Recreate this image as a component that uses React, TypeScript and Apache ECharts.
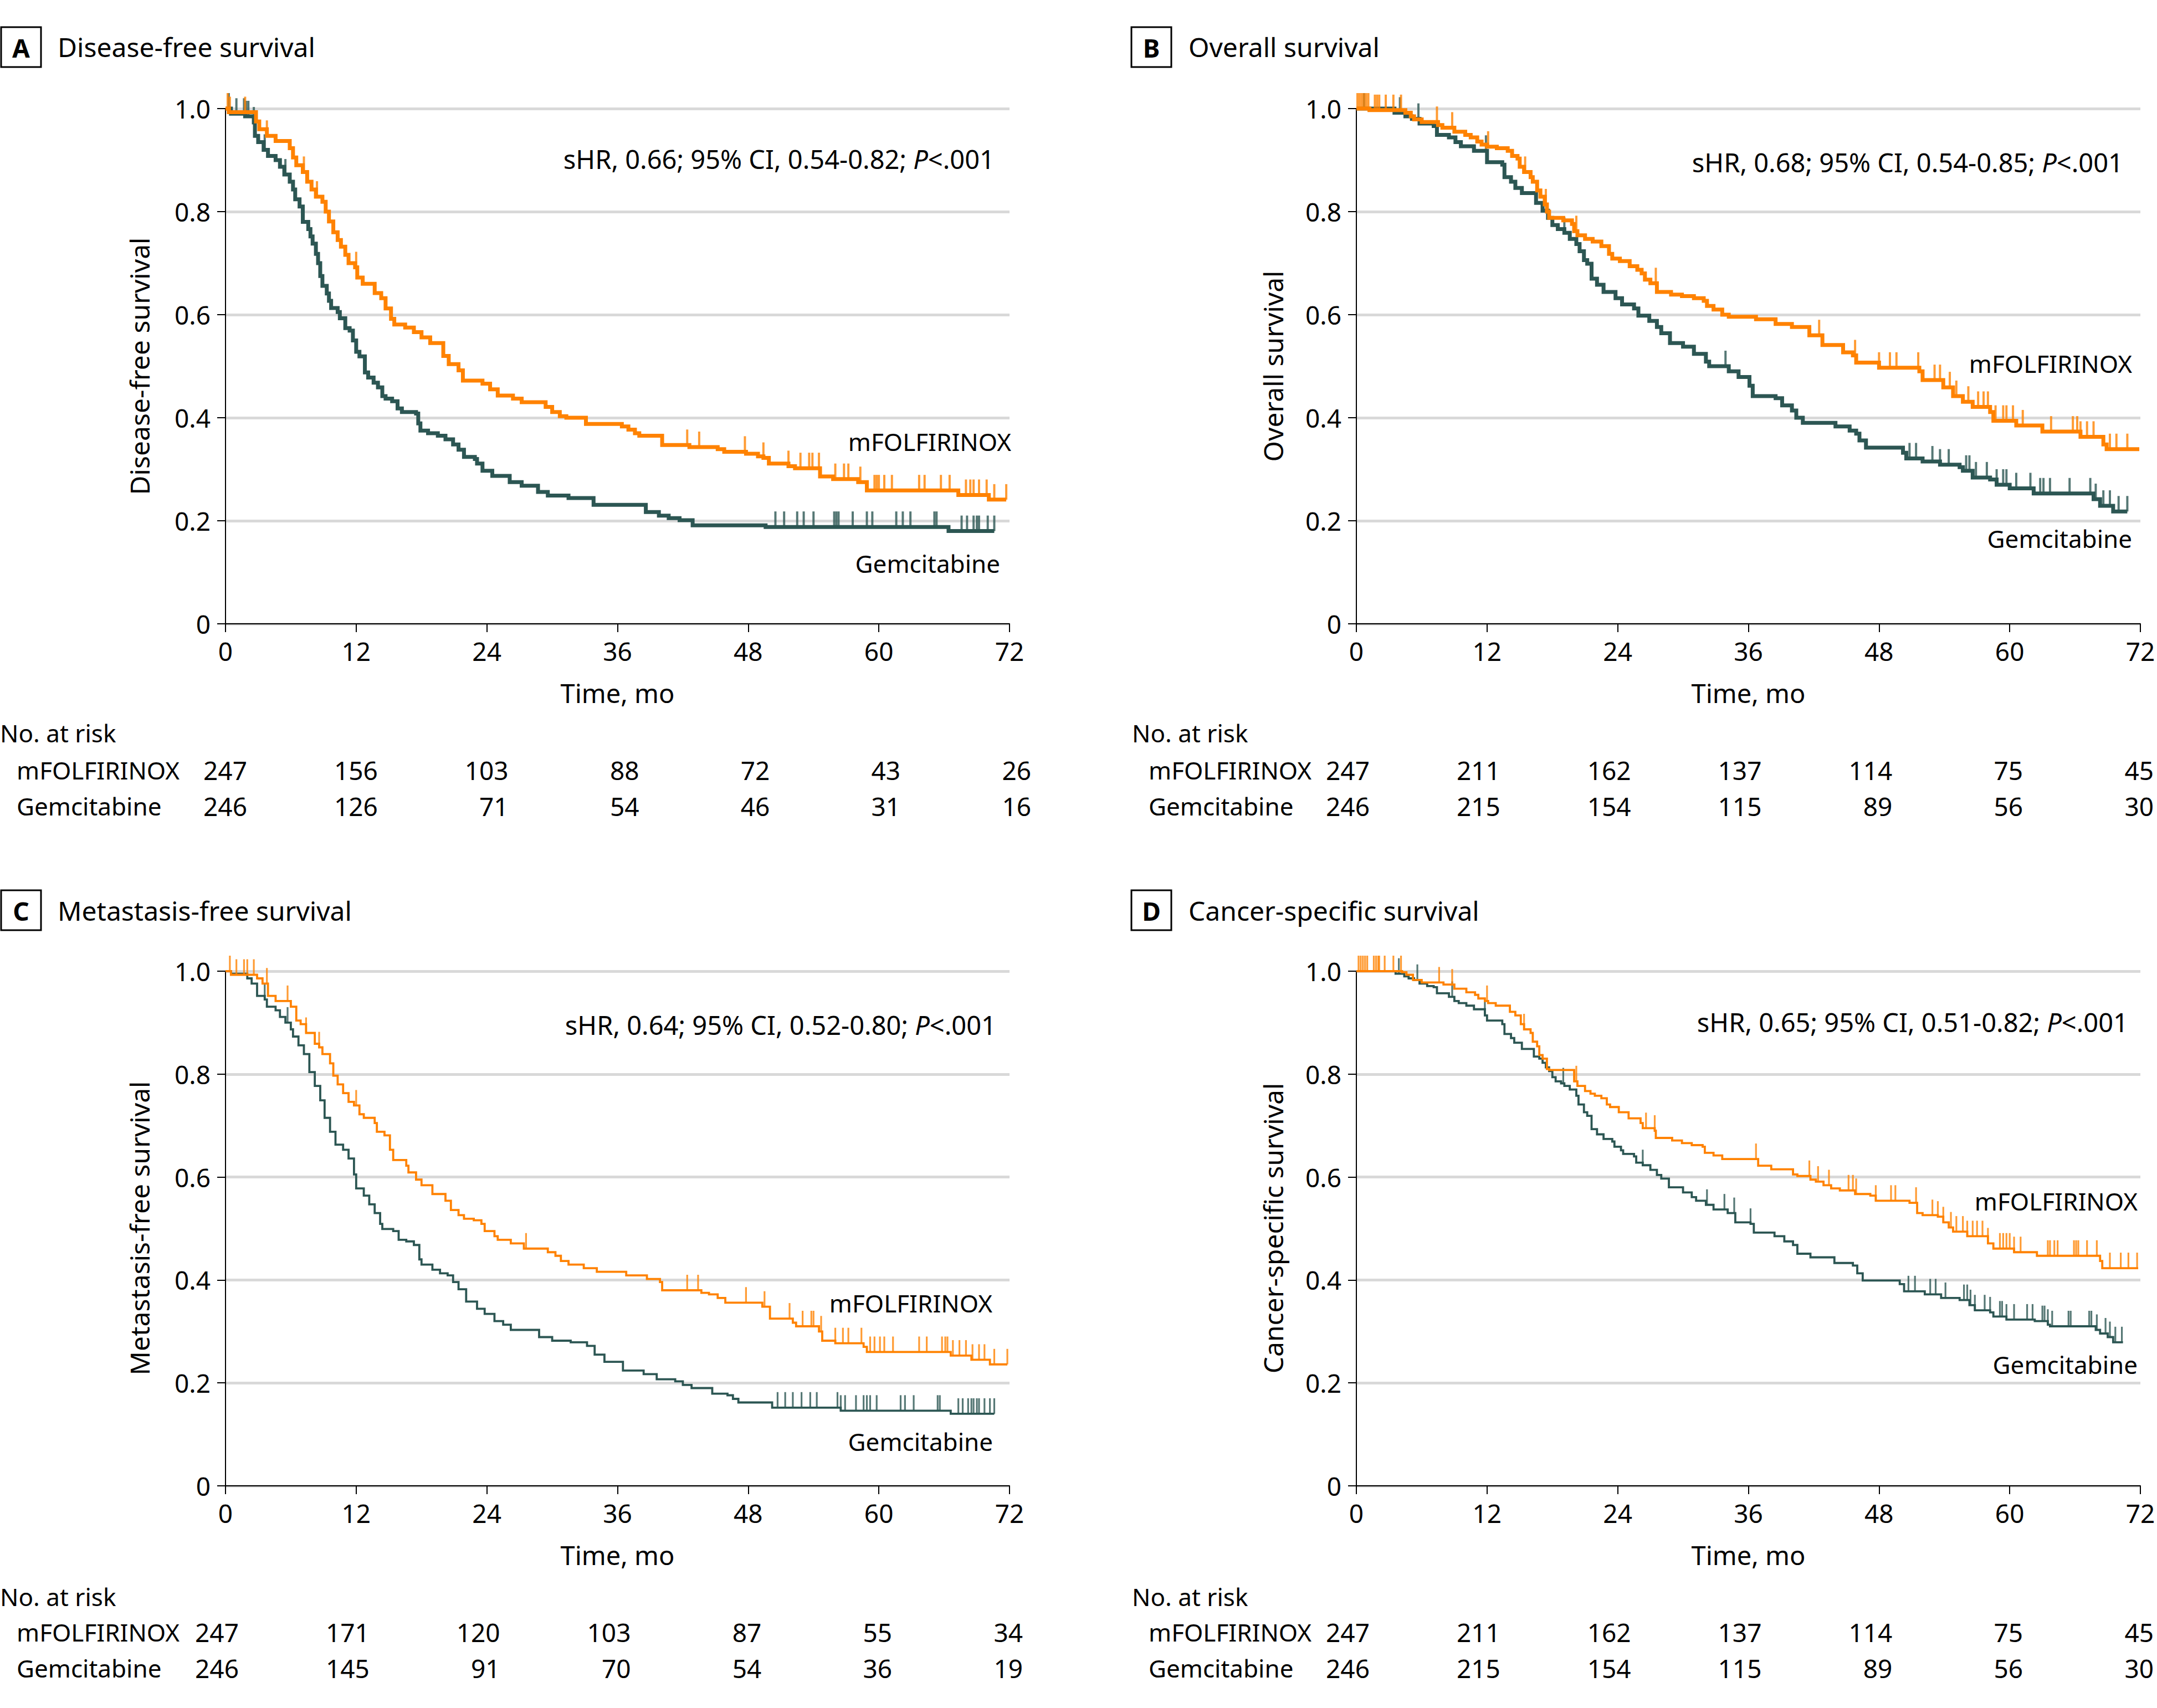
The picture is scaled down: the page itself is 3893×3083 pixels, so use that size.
import React, { useEffect, useRef } from "react";
import * as echarts from "echarts";

// ---------- DATA ----------
const X_TICKS = [0, 12, 24, 36, 48, 60, 72];

// Panel A: Disease-free survival
const A_MF: number[][] = [[0,1],[0.3,0.993],[2.8,0.975],[3.1,0.96],[3.8,0.947],[4.6,0.937],[5.9,0.923],[6.2,0.905],[6.5,0.89],[7.1,0.877],[7.5,0.858],[7.9,0.843],[8.3,0.829],[8.9,0.819],[9.2,0.8],[9.5,0.781],[9.9,0.76],[10.3,0.745],[10.6,0.732],[11.0,0.716],[11.3,0.7],[11.9,0.692],[12.1,0.672],[12.6,0.66],[13.7,0.642],[14.3,0.632],[14.7,0.612],[15.2,0.592],[15.5,0.581],[16.5,0.575],[17.3,0.566],[18.0,0.556],[18.8,0.545],[20.0,0.52],[20.5,0.504],[21.4,0.492],[21.8,0.472],[23.6,0.466],[24.3,0.455],[25.0,0.443],[26.4,0.437],[27.2,0.43],[29.4,0.421],[30.0,0.411],[30.7,0.403],[31.3,0.4],[33.1,0.388],[36.4,0.383],[37.0,0.377],[37.6,0.37],[38.0,0.365],[40.1,0.347],[42.6,0.343],[45.2,0.339],[45.8,0.334],[47.8,0.33],[48.9,0.325],[49.4,0.322],[49.9,0.311],[51.7,0.306],[52.3,0.302],[54.6,0.286],[55.8,0.281],[58.1,0.275],[58.9,0.259],[67.3,0.25],[70.1,0.241],[71.7,0.241]];
const A_GE: number[][] = [[0,1],[0.5,0.99],[1.8,0.985],[2.6,0.973],[2.7,0.947],[3.0,0.935],[3.5,0.92],[3.9,0.908],[4.6,0.9],[5.0,0.887],[5.4,0.872],[5.9,0.858],[6.2,0.843],[6.4,0.824],[6.8,0.81],[7.1,0.78],[7.6,0.766],[7.8,0.752],[8.0,0.738],[8.3,0.718],[8.5,0.7],[8.7,0.675],[8.9,0.656],[9.3,0.641],[9.5,0.627],[9.7,0.613],[10.3,0.605],[10.5,0.593],[11.0,0.574],[11.4,0.569],[11.7,0.55],[12.0,0.528],[12.3,0.519],[12.8,0.488],[13.1,0.478],[13.6,0.468],[14.0,0.459],[14.4,0.442],[14.7,0.437],[15.3,0.432],[15.8,0.418],[16.2,0.411],[17.5,0.408],[17.7,0.389],[17.9,0.375],[18.6,0.37],[19.5,0.365],[20.2,0.358],[20.9,0.348],[21.4,0.338],[21.9,0.324],[22.9,0.32],[23.1,0.311],[23.6,0.297],[24.5,0.287],[26.1,0.275],[27.2,0.268],[28.7,0.256],[29.6,0.249],[31.5,0.244],[33.8,0.231],[38.6,0.217],[39.8,0.21],[40.7,0.205],[41.7,0.201],[42.9,0.191],[49.6,0.188],[66.4,0.18],[70.6,0.18]];
const A_MF_CENS = [0.2,0.4,1.8,3.8,7.2,8.4,12.0,42.4,43.5,47.7,49.4,51.7,52.8,53.6,53.9,54.5,56.0,56.8,57.2,58.3,59.6,59.8,60.0,60.5,61.2,63.7,64.2,65.7,66.5,68.0,68.4,68.7,69.2,69.9,70.6,71.7];
const A_GE_CENS = [0.3,1.0,1.7,1.9,2.1,2.6,3.6,5.5,50.5,51.3,52.5,53.1,54.0,55.9,56.1,56.3,57.6,58.9,59.4,61.6,62.2,62.9,65.1,65.3,67.6,68.1,68.7,69.0,69.2,70.0,70.6];
const A_RISK_MF = [247, 156, 103, 88, 72, 43, 26];
const A_RISK_GE = [246, 126, 71, 54, 46, 31, 16];

// Panel B: Overall survival
const B_MF: number[][] = [[0,1],[1.2,0.997],[4.5,0.992],[5.0,0.985],[5.3,0.979],[6.0,0.974],[7.5,0.968],[7.9,0.963],[9.0,0.955],[10.0,0.949],[10.5,0.944],[11.1,0.936],[11.5,0.93],[12.0,0.926],[12.9,0.923],[13.9,0.918],[14.3,0.908],[14.8,0.903],[15.0,0.887],[15.4,0.877],[16.0,0.867],[16.2,0.858],[16.6,0.841],[16.9,0.829],[17.3,0.814],[17.5,0.8],[17.7,0.788],[19.0,0.783],[19.8,0.776],[20.0,0.762],[20.3,0.754],[21.0,0.747],[21.7,0.742],[22.5,0.733],[23.2,0.718],[23.5,0.709],[24.2,0.704],[25.1,0.694],[25.8,0.687],[26.2,0.68],[26.5,0.668],[27.0,0.661],[27.6,0.644],[28.9,0.639],[29.9,0.636],[31.0,0.632],[31.9,0.627],[32.2,0.617],[32.8,0.61],[33.6,0.6],[34.2,0.596],[36.7,0.591],[38.5,0.582],[40.0,0.576],[41.6,0.56],[42.8,0.541],[44.7,0.527],[45.6,0.521],[45.9,0.507],[48.0,0.497],[51.7,0.49],[52.0,0.473],[53.9,0.459],[54.8,0.442],[55.7,0.431],[56.6,0.421],[58.2,0.411],[58.5,0.394],[60.6,0.385],[63.0,0.373],[66.5,0.363],[68.6,0.348],[68.9,0.339],[71.9,0.339]];
const B_GE: number[][] = [[0,1],[3.5,0.992],[4.5,0.985],[5.1,0.98],[5.8,0.971],[7.1,0.966],[7.4,0.949],[8.5,0.944],[9.1,0.935],[9.6,0.927],[10.8,0.918],[12.0,0.896],[13.4,0.891],[13.6,0.867],[14.2,0.858],[14.6,0.846],[15.2,0.836],[16.5,0.817],[17.1,0.802],[17.6,0.788],[18.0,0.774],[18.5,0.766],[19.1,0.759],[19.6,0.747],[20.2,0.737],[20.5,0.723],[20.9,0.706],[21.2,0.699],[21.6,0.67],[22.1,0.658],[22.7,0.644],[23.8,0.632],[24.4,0.62],[25.5,0.612],[25.9,0.598],[26.9,0.588],[27.6,0.576],[28.0,0.564],[28.8,0.545],[30.0,0.538],[31.0,0.524],[32.1,0.509],[32.4,0.5],[34.2,0.49],[35.1,0.479],[36.1,0.462],[36.4,0.442],[38.5,0.438],[39.1,0.424],[40.0,0.414],[40.4,0.4],[41.0,0.39],[44.0,0.383],[45.3,0.375],[45.9,0.369],[46.2,0.356],[46.8,0.342],[50.2,0.332],[50.5,0.321],[52.0,0.315],[53.6,0.309],[55.4,0.304],[55.7,0.297],[56.6,0.284],[58.2,0.28],[58.8,0.27],[60.0,0.263],[62.2,0.253],[67.7,0.242],[68.3,0.229],[69.5,0.218],[70.8,0.218]];
const B_MF_CENS = [0.1,0.3,0.5,0.7,0.9,1.1,1.7,1.9,2.1,2.7,3.4,4.1,7.4,8.8,12.1,15.5,17.4,20.2,27.5,42.5,45.8,48.0,49.0,49.6,51.6,53.1,53.6,54.5,55.1,56.2,57.1,57.6,58.0,58.7,59.4,59.7,60.3,61.2,63.8,65.8,66.2,66.5,67.1,67.7,69.2,69.8,70.8];
const B_GE_CENS = [0.7,4.0,5.7,11.9,19.1,33.9,50.8,51.4,52.9,53.6,54.4,56.0,56.3,56.9,57.9,58.8,59.4,59.7,60.6,61.9,62.8,63.1,63.7,65.5,67.4,67.9,68.6,69.2,70.0,70.8];
const B_RISK_MF = [247, 211, 162, 137, 114, 75, 45];
const B_RISK_GE = [246, 215, 154, 115, 89, 56, 30];

// Panel C: Metastasis-free survival
const C_MF: number[][] = [[0,1],[0.5,0.993],[2.9,0.986],[3.4,0.976],[3.9,0.952],[4.6,0.942],[6.0,0.931],[6.5,0.904],[6.9,0.897],[7.4,0.88],[8.2,0.859],[8.6,0.852],[8.9,0.839],[9.6,0.821],[9.9,0.797],[10.3,0.78],[10.8,0.763],[11.3,0.746],[11.8,0.739],[12.3,0.722],[12.7,0.715],[13.7,0.705],[13.9,0.688],[14.6,0.681],[15.1,0.653],[15.4,0.633],[16.6,0.622],[16.8,0.609],[17.5,0.595],[18.0,0.584],[19.0,0.567],[20.2,0.554],[20.7,0.536],[21.4,0.526],[21.9,0.519],[22.8,0.516],[23.5,0.509],[23.8,0.495],[24.7,0.485],[25.0,0.478],[26.2,0.471],[27.4,0.461],[29.6,0.454],[30.3,0.447],[30.8,0.437],[31.5,0.43],[32.9,0.423],[34.1,0.416],[36.8,0.409],[38.7,0.402],[39.9,0.396],[40.1,0.38],[43.7,0.375],[44.4,0.372],[45.2,0.365],[45.9,0.356],[49.3,0.348],[50.0,0.325],[52.1,0.317],[52.4,0.31],[54.5,0.3],[54.8,0.282],[56.0,0.277],[58.6,0.27],[58.9,0.26],[66.6,0.253],[68.5,0.245],[70.2,0.236],[71.8,0.236]];
const C_GE: number[][] = [[0,1],[0.5,0.995],[2.0,0.986],[2.4,0.976],[2.9,0.952],[3.6,0.945],[3.8,0.931],[4.6,0.924],[5.0,0.911],[5.5,0.9],[6.0,0.887],[6.2,0.873],[6.7,0.856],[7.2,0.839],[7.7,0.804],[8.2,0.777],[8.7,0.749],[9.1,0.715],[9.6,0.688],[10.1,0.663],[10.8,0.653],[11.3,0.636],[11.8,0.605],[12.0,0.578],[12.7,0.564],[13.2,0.547],[13.7,0.53],[14.2,0.509],[14.4,0.499],[15.4,0.495],[15.9,0.478],[16.6,0.475],[17.3,0.468],[17.8,0.44],[18.0,0.43],[19.0,0.42],[19.7,0.413],[20.4,0.409],[20.9,0.396],[21.4,0.382],[22.1,0.358],[23.1,0.344],[23.8,0.334],[24.7,0.32],[25.5,0.313],[26.2,0.303],[28.8,0.289],[30.0,0.282],[31.7,0.279],[33.2,0.272],[33.9,0.255],[34.8,0.241],[36.5,0.224],[38.4,0.217],[39.6,0.207],[41.3,0.203],[42.0,0.196],[42.8,0.19],[44.7,0.179],[46.1,0.176],[46.6,0.169],[47.1,0.162],[50.2,0.152],[56.5,0.146],[66.6,0.14],[70.6,0.14]];
const C_MF_CENS = [0.4,1.0,1.7,2.0,2.6,3.8,5.7,7.4,8.6,12.0,27.6,42.4,43.4,47.8,49.5,51.8,53.0,53.8,54.0,54.7,56.0,56.7,57.2,58.4,59.2,59.6,60.1,60.5,61.3,63.7,64.4,65.8,66.1,66.3,66.8,67.4,68.0,68.6,69.2,69.7,70.6,71.8];
const C_GE_CENS = [3.6,5.7,50.7,51.4,52.1,52.9,53.7,54.3,56.2,56.5,56.9,57.9,58.6,58.9,59.2,59.8,62.0,62.4,63.2,65.4,65.6,67.3,67.7,68.2,68.5,68.7,69.0,69.2,69.7,70.2,70.6];
const C_RISK_MF = [247, 171, 120, 103, 87, 55, 34];
const C_RISK_GE = [246, 145, 91, 70, 54, 36, 19];

// Panel D: Cancer-specific survival
const D_MF: number[][] = [[0,1],[4.2,0.998],[4.6,0.993],[5.2,0.983],[6.0,0.978],[8.0,0.974],[9.0,0.966],[10.1,0.959],[10.9,0.954],[11.2,0.947],[11.8,0.942],[12.1,0.938],[12.8,0.933],[14.1,0.921],[14.6,0.914],[15.1,0.897],[15.4,0.887],[16.0,0.88],[16.2,0.863],[16.6,0.854],[16.8,0.837],[17.1,0.83],[17.5,0.81],[17.7,0.808],[20.0,0.786],[20.3,0.777],[21.0,0.767],[21.5,0.762],[21.9,0.758],[22.5,0.753],[23.0,0.741],[23.3,0.736],[24.1,0.726],[25.0,0.714],[26.1,0.705],[26.3,0.695],[27.4,0.69],[27.5,0.676],[29.0,0.671],[29.9,0.666],[30.8,0.662],[31.8,0.659],[32.0,0.647],[32.8,0.642],[33.6,0.635],[36.9,0.622],[38.1,0.615],[40.1,0.605],[40.5,0.602],[41.7,0.595],[42.2,0.591],[42.9,0.584],[43.6,0.578],[44.4,0.574],[45.8,0.567],[47.2,0.564],[47.7,0.554],[50.8,0.55],[51.5,0.53],[52.0,0.526],[53.4,0.523],[53.9,0.512],[54.4,0.502],[54.8,0.494],[56.1,0.485],[58.0,0.471],[58.5,0.461],[60.4,0.454],[62.5,0.447],[68.3,0.437],[68.5,0.423],[71.8,0.423]];
const D_GE: number[][] = [[0,1],[3.6,0.995],[4.4,0.99],[4.8,0.986],[5.3,0.983],[5.8,0.976],[6.5,0.971],[7.1,0.969],[7.4,0.957],[8.5,0.95],[9.0,0.942],[9.4,0.938],[10.1,0.933],[10.8,0.926],[11.8,0.914],[12.0,0.904],[13.4,0.897],[13.6,0.878],[14.2,0.87],[14.5,0.861],[15.2,0.849],[16.3,0.834],[16.8,0.83],[17.1,0.822],[17.4,0.813],[17.7,0.806],[18.0,0.794],[18.3,0.786],[18.8,0.782],[19.1,0.777],[19.6,0.77],[20.2,0.758],[20.4,0.741],[20.9,0.726],[21.2,0.719],[21.6,0.693],[22.1,0.683],[22.7,0.674],[23.5,0.669],[23.7,0.659],[24.3,0.652],[24.5,0.645],[25.5,0.64],[25.7,0.628],[26.3,0.623],[27.0,0.614],[27.6,0.604],[28.0,0.597],[28.7,0.58],[30.0,0.57],[30.8,0.561],[31.2,0.554],[32.1,0.546],[32.8,0.537],[34.1,0.53],[34.8,0.512],[36.2,0.509],[36.5,0.492],[38.4,0.485],[39.3,0.475],[40.1,0.468],[40.5,0.451],[41.7,0.444],[43.9,0.433],[45.6,0.428],[46.0,0.413],[46.5,0.399],[49.9,0.392],[50.3,0.378],[52.2,0.372],[53.7,0.365],[55.4,0.361],[56.3,0.351],[56.8,0.341],[58.2,0.337],[58.5,0.329],[59.7,0.323],[62.3,0.32],[63.5,0.313],[63.7,0.31],[67.9,0.303],[68.3,0.296],[69.0,0.289],[69.5,0.279],[70.4,0.279]];
const D_MF_CENS = [0.2,0.4,0.6,0.8,1.0,1.6,1.8,2.0,2.1,2.6,3.4,4.1,7.6,8.8,12.0,15.4,20.2,26.6,27.4,36.7,41.6,42.4,43.4,45.2,45.6,45.9,47.7,49.1,49.5,51.4,52.9,53.4,53.9,54.6,55.1,55.7,56.1,56.6,57.0,57.5,58.0,59.1,59.4,59.7,60.0,60.4,61.0,63.5,63.7,64.1,64.4,65.9,66.1,66.3,67.1,68.0,69.2,70.2,70.9,71.7];
const D_GE_CENS = [3.9,5.6,8.8,11.8,19.0,26.3,32.2,33.8,34.7,36.2,50.7,51.3,52.7,53.2,54.1,55.8,56.1,56.4,56.8,57.7,58.2,59.1,59.3,59.7,60.4,61.6,62.1,63.0,63.2,63.5,63.9,65.4,65.6,67.3,67.5,68.0,68.8,69.2,69.7,70.3];
const D_RISK_MF = [247, 211, 162, 137, 114, 75, 45];
const D_RISK_GE = [246, 215, 154, 115, 89, 56, 30];

const PANEL_LETTERS = ["A", "B", "C", "D"];
const PANEL_TITLES = ["Disease-free survival", "Overall survival", "Metastasis-free survival", "Cancer-specific survival"];
const Y_TITLES = ["Disease-free survival", "Overall survival", "Metastasis-free survival", "Cancer-specific survival"];
const HR_TEXTS = ["sHR, 0.66; 95% CI, 0.54-0.82; ", "sHR, 0.68; 95% CI, 0.54-0.85; ", "sHR, 0.64; 95% CI, 0.52-0.80; ", "sHR, 0.65; 95% CI, 0.51-0.82; "];
const GROUPS = ["mFOLFIRINOX", "Gemcitabine"];

// ---------- STYLE / LAYOUT ----------
const ORANGE = "#FF8200";
const TEAL = "#2C5653";
const FONT = "'Noto Sans', 'DejaVu Sans', sans-serif";

const LAYOUT = [
  { left: 407, top: 196, h: 930, boxX: 2, boxY: 49, titleX: 104, titleY: 84, yTitleX: 251, yTitleY: 661, hrX: 1795, hrY: 287, mf: [1825, 797], ge: [1805, 1017], timeY: 1251, headX: 0, headY: 1323, rowX: 30, row1: 1390, row2: 1455, numOff: 39, lw: 7, tw: 4 },
  { left: 2448, top: 196, h: 930, boxX: 2042, boxY: 49, titleX: 2145, titleY: 84, yTitleX: 2297, yTitleY: 661, hrX: 3832, hrY: 293, mf: [3848, 656], ge: [3848, 972], timeY: 1251, headX: 2043, headY: 1323, rowX: 2073, row1: 1390, row2: 1455, numOff: 24, lw: 7, tw: 4 },
  { left: 407, top: 1753, h: 929, boxX: 2, boxY: 1607, titleX: 104, titleY: 1643, yTitleX: 251, yTitleY: 2217, hrX: 1798, hrY: 1850, mf: [1791, 2352], ge: [1792, 2602], timeY: 2807, headX: 0, headY: 2882, rowX: 30, row1: 2946, row2: 3011, numOff: 24, lw: 3.8, tw: 3.2 },
  { left: 2448, top: 1753, h: 929, boxX: 2042, boxY: 1607, titleX: 2145, titleY: 1643, yTitleX: 2297, yTitleY: 2217, hrX: 3841, hrY: 1845, mf: [3858, 2168], ge: [3858, 2463], timeY: 2807, headX: 2043, headY: 2882, rowX: 2073, row1: 2946, row2: 3011, numOff: 24, lw: 3.8, tw: 3.2 },
];
const GRID_W = 1415;

const PANELS = [
  { mf: A_MF, ge: A_GE, mfC: A_MF_CENS, geC: A_GE_CENS, rMF: A_RISK_MF, rGE: A_RISK_GE },
  { mf: B_MF, ge: B_GE, mfC: B_MF_CENS, geC: B_GE_CENS, rMF: B_RISK_MF, rGE: B_RISK_GE },
  { mf: C_MF, ge: C_GE, mfC: C_MF_CENS, geC: C_GE_CENS, rMF: C_RISK_MF, rGE: C_RISK_GE },
  { mf: D_MF, ge: D_GE, mfC: D_MF_CENS, geC: D_GE_CENS, rMF: D_RISK_MF, rGE: D_RISK_GE },
];

function survAt(curve: number[][], t: number): number {
  let s = curve[0][1];
  for (const p of curve) {
    if (p[0] <= t + 1e-9) s = p[1];
    else break;
  }
  return s;
}

function txt(text: string, x: number, y: number, size: number, align: string, extra: any = {}) {
  return {
    type: "text",
    x,
    y,
    silent: true,
    ...extra,
    style: {
      text,
      fill: "#000",
      fontSize: size,
      fontFamily: FONT,
      align,
      verticalAlign: "middle",
      textAlign: align,
      textVerticalAlign: "middle",
      ...(extra.style || {}),
    },
  };
}

export default function App() {
  const ref = useRef<HTMLDivElement>(null);
  useEffect(() => {
    if (!ref.current) return;
    const chart = echarts.init(ref.current, null, { renderer: "svg" });

    const grid: any[] = [];
    const xAxis: any[] = [];
    const yAxis: any[] = [];
    const series: any[] = [];

    LAYOUT.forEach((L, i) => {
      grid.push({ left: L.left, top: L.top, width: GRID_W, height: L.h, containLabel: false });
      xAxis.push({
        type: "value", gridIndex: i, min: 0, max: 72, interval: 12,
        axisLine: { show: true, onZero: false, lineStyle: { color: "#000", width: 2 } },
        axisTick: { show: true, length: 15, lineStyle: { color: "#000", width: 2 } },
        axisLabel: { color: "#000", fontSize: 46, fontFamily: FONT, margin: 26 },
        splitLine: { show: false },
      });
      yAxis.push({
        type: "value", gridIndex: i, min: 0, max: 1, interval: 0.2,
        axisLine: { show: true, lineStyle: { color: "#000", width: 2 } },
        axisTick: { show: true, length: 15, lineStyle: { color: "#000", width: 2 } },
        axisLabel: { color: "#000", fontSize: 46, fontFamily: FONT, margin: 27, formatter: (v: number) => (v === 0 ? "0" : v.toFixed(1)) },
        splitLine: { show: true, lineStyle: { color: "#D9D9D9", width: 5 } },
      });
      const P = PANELS[i];
      const curves = [
        { data: P.ge, cens: P.geC, color: TEAL, z: 3 },
        { data: P.mf, cens: P.mfC, color: ORANGE, z: 4 },
      ];
      curves.forEach((c) => {
        series.push({
          type: "line", xAxisIndex: i, yAxisIndex: i, data: c.data, step: "end",
          showSymbol: false, symbol: "none", clip: false, silent: true, z: c.z,
          lineStyle: { color: c.color, width: L.lw, join: "miter" },
        });
        series.push({
          type: "scatter", xAxisIndex: i, yAxisIndex: i, clip: false, silent: true, z: c.z,
          data: c.cens.map((t) => [t, survAt(c.data, t)]),
          symbol: "rect", symbolSize: [L.tw, 28], symbolOffset: [0, -14],
          itemStyle: { color: c.color },
        });
      });
    });

    chart.setOption({ animation: false, backgroundColor: "#fff", grid, xAxis, yAxis, series });

    const graphic: any[] = [];
    LAYOUT.forEach((L, i) => {
      const P = PANELS[i];
      graphic.push({ type: "rect", silent: true, shape: { x: L.boxX, y: L.boxY, width: 72, height: 72 }, style: { fill: "none", stroke: "#000", lineWidth: 3 } });
      graphic.push(txt(PANEL_LETTERS[i], L.boxX + 36, L.boxY + 37, 46, "center", { style: { fontWeight: "bold" } }));
      graphic.push(txt(PANEL_TITLES[i], L.titleX, L.titleY, 48, "left"));
      graphic.push(txt(Y_TITLES[i], L.yTitleX, L.yTitleY, 48, "center", { rotation: Math.PI / 2 }));
      graphic.push(txt(HR_TEXTS[i] + "{i|P}<.001", L.hrX, L.hrY, 47, "right", { style: { rich: { i: { fontStyle: "italic", fontSize: 47, fontFamily: FONT, fill: "#000" } } } }));
      graphic.push(txt(GROUPS[0], L.mf[0], L.mf[1], 44, "right"));
      graphic.push(txt(GROUPS[1], L.ge[0], L.ge[1], 44, "right"));
      graphic.push(txt("Time, mo", L.left + GRID_W / 2, L.timeY, 47, "center"));
      graphic.push(txt("No. at risk", L.headX, L.headY, 44, "left"));
      graphic.push(txt(GROUPS[0], L.rowX, L.row1, 44, "left"));
      graphic.push(txt(GROUPS[1], L.rowX, L.row2, 44, "left"));
      X_TICKS.forEach((t, k) => {
        const px = chart.convertToPixel({ xAxisIndex: i }, t) as number;
        graphic.push(txt(String(P.rMF[k]), px + L.numOff, L.row1, 46, "right"));
        graphic.push(txt(String(P.rGE[k]), px + L.numOff, L.row2, 46, "right"));
      });
    });
    chart.setOption({ graphic });

    return () => chart.dispose();
  }, []);

  return (
    <div
      ref={ref}
      style={{ position: "fixed", left: 0, top: 0, width: 3893, height: 3083, background: "#fff" }}
    />
  );
}
